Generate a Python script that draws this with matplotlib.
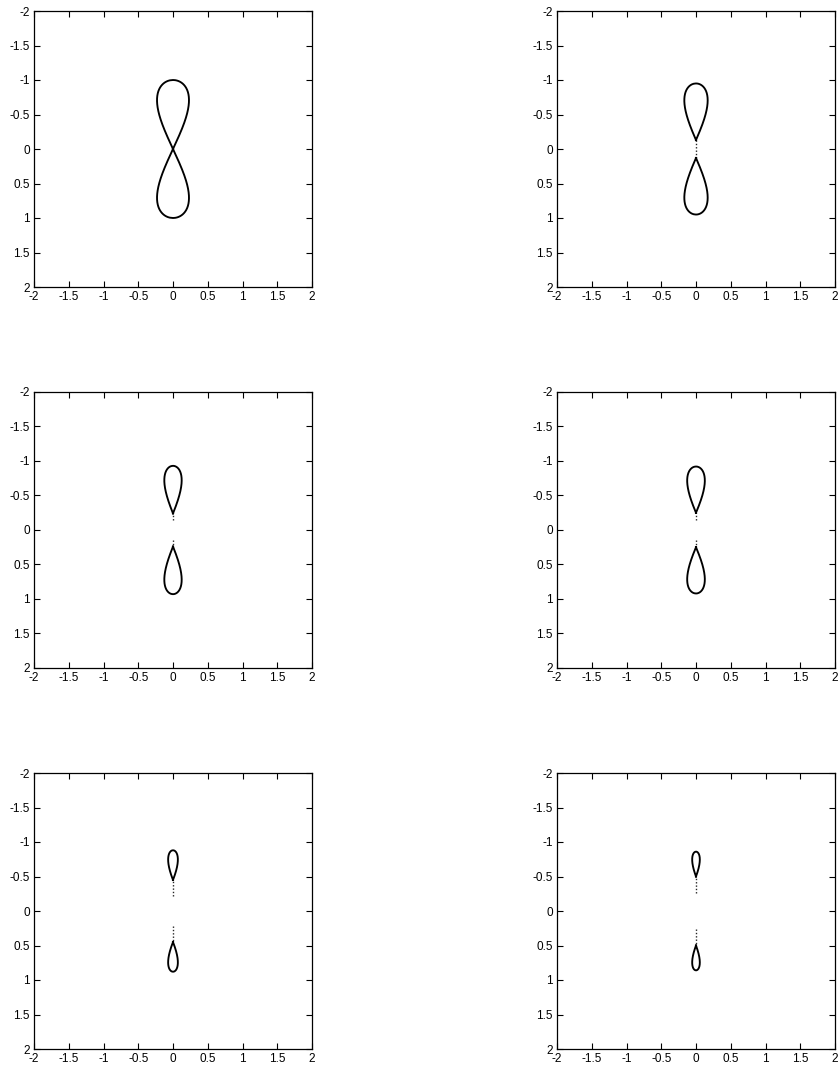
import matplotlib
matplotlib.use("Agg")
import matplotlib.pyplot as plt
import numpy as np

plt.rcParams['font.family'] = ['Liberation Sans', 'DejaVu Sans']

# loop extents along the vertical axis and widest half-width, one entry per panel
inner = [0.0, 0.13, 0.24, 0.25, 0.45, 0.50]
outer = [1.0, 0.95, 0.93, 0.92, 0.88, 0.86]
halfwidth = [0.23, 0.168, 0.125, 0.127, 0.07, 0.055]
# where the faint trace past the loop tip runs out
tail = [0.0, 0.02, 0.15, 0.15, 0.22, 0.26]

ticks = [-2, -1.5, -1, -0.5, 0, 0.5, 1, 1.5, 2]
tick_labels = ['-2', '-1.5', '-1', '-0.5', '0', '0.5', '1', '1.5', '2']

W, H = 840, 1072
fig = plt.figure(figsize=(W / 100, H / 100), dpi=100)

lefts = [34, 557]
tops = [11, 392, 773]
aw, ah = 278, 276


def loop(a, b, w):
    # teardrop from |y|=a to |y|=b, scaled so its widest point is w
    um = (a + np.sqrt(a * a + 8 * b * b)) / 4
    k = w / ((um - a) * np.sqrt(b * b - um * um))
    u = np.linspace(a, b, 400)
    x = k * (u - a) * np.sqrt(np.clip(b * b - u * u, 0, None))
    xs = np.concatenate([x, -x[::-1]])
    ys = np.concatenate([u, u[::-1]])
    return xs, ys


for i in range(6):
    r, c = divmod(i, 2)
    ax = fig.add_axes([lefts[c] / W, 1 - (tops[r] + ah) / H, aw / W, ah / H])
    xs, ys = loop(inner[i], outer[i], halfwidth[i])
    for s in (1, -1):
        ax.plot(xs, s * ys, color='black', lw=1.35, solid_joinstyle='round')
        if inner[i] > tail[i]:
            ax.plot([0, 0], [s * tail[i], s * inner[i]], color='black', lw=1.0,
                    linestyle=(0, (1, 1.4)), alpha=0.85)
    ax.set_xlim(-2, 2)
    ax.set_ylim(2, -2)
    ax.set_xticks(ticks)
    ax.set_yticks(ticks)
    ax.set_xticklabels(tick_labels)
    ax.set_yticklabels(tick_labels)
    ax.tick_params(direction='in', length=4, width=0.8, top=True, right=True,
                   labelsize=8.5, pad=3)
    for sp in ax.spines.values():
        sp.set_linewidth(0.9)

fig.savefig('out.png', dpi=100)
